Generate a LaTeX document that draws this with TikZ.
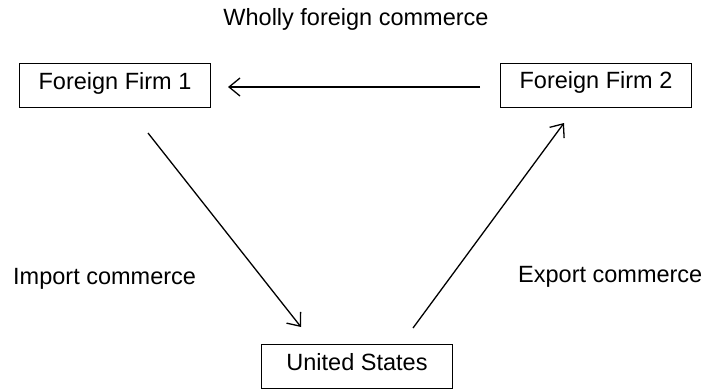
\documentclass[tikz,border=0pt]{standalone}
\usepackage{fontspec}
\setmainfont{Liberation Sans}
\usetikzlibrary{arrows.meta}
\begin{document}
\begin{tikzpicture}[x=1pt,y=-1pt,
  firm/.style={draw=black,line width=1.4pt,minimum width=191pt,minimum height=44pt,
    inner sep=0pt,text height=0.72em,text depth=0pt,font=\fontsize{23.5}{28}\selectfont},
  lbl/.style={inner sep=0pt,anchor=base west,font=\fontsize{23.5}{28}\selectfont},
  arr/.style={line width=1.3pt,-{Straight Barb[length=11pt,width=18pt,line width=1.3pt]}}]
\useasboundingbox[fill=white] (0,0) rectangle (709,391);
\node[firm] (ff1) at (115,85.5) {Foreign Firm 1};
\node[firm] (ff2) at (596,85.3) {Foreign Firm 2};
\node[firm] (us) at (357,366.5) {United States};
\node[inner sep=0pt,anchor=base,font=\fontsize{23.5}{28}\selectfont] (wf) at (356,25) {Wholly foreign commerce};
\node[lbl] (imp) at (13,284) {Import commerce};
\node[lbl] (exp) at (518,282) {Export commerce};
\coordinate (h1) at (480,87);
\coordinate (h2) at (228,87);
\coordinate (d1) at (148,133);
\coordinate (d2) at (301,327);
\coordinate (e1) at (413,328);
\coordinate (e2) at (564,123);
\draw[arr] (h1) -- (h2);
\draw[arr] (d1) -- (d2);
\draw[arr] (e1) -- (e2);
\end{tikzpicture}
\end{document}
